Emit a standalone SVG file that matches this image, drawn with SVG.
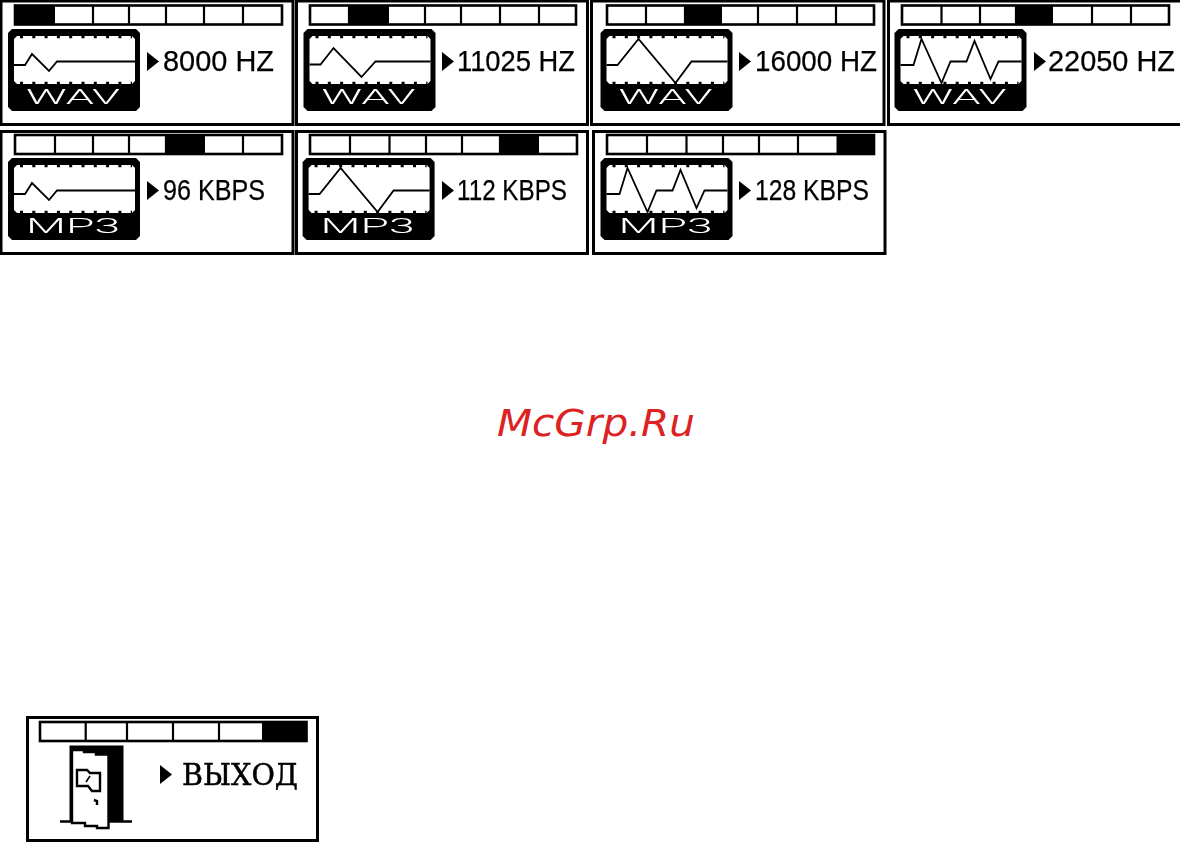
<svg xmlns="http://www.w3.org/2000/svg" xmlns:xlink="http://www.w3.org/1999/xlink" width="1180" height="842" viewBox="0 0 1180 842">
<style>
.frame{fill:#fff;stroke:#000;stroke-width:3}
.bar{fill:#fff;stroke:#000;stroke-width:2.6}
.cell{fill:#000}
.div{stroke:#000;stroke-width:2.2}
.wave{fill:none;stroke:#000;stroke-width:1.8;stroke-linejoin:miter}
.lab{font-family:"Liberation Sans",Arial,sans-serif;font-size:30px;fill:#000;stroke:#000;stroke-width:.25}
.fmt{font-family:Roboto,"Liberation Sans",sans-serif;font-weight:300;font-size:20.5px;fill:#fff}
.tick{fill:none;stroke:#000;stroke-width:2.6;stroke-dasharray:3 9.3}
.panel{filter:url(#soft)}
</style>
<defs>
<filter id="soft" x="-2%" y="-2%" width="104%" height="104%"><feGaussianBlur stdDeviation="0.4"/></filter>
<g id="lcd">
<path d="M12,29H136L140,33V107L136,111H12L8,107V33Z" fill="#000"/>
<path d="M17,36H132L135,39V81L132,84H17L14,81V39Z" fill="#fff"/>
<path class="tick" d="M20,37H132"/>
<path class="tick" d="M20,83H132"/>
</g>
<path id="w1" class="wave" d="M14,65H25L32,54L49,71L57,61.5H135"/>
<path id="w2" class="wave" d="M14,64.5H25L38,48L66,77L80,61.5H135"/>
<path id="w3" class="wave" d="M14,65H25L46,39L83,83L99,61.5H135"/>
<path id="w4" class="wave" d="M14,65H27L35,39L55,83L64,61.5H80L88,41L104,79L112,61.5H135"/>
<path id="arr" d="M0,0L12,9.5L0,19Z" fill="#000"/>
</defs>
<rect width="1180" height="842" fill="#fff"/>

<g id="panel-8000" class="panel">
<rect class="frame" x="1" y="1" width="292" height="123.5"/>
<rect class="bar" x="15" y="5.5" width="267" height="19"/>
<rect class="cell" x="15" y="5.5" width="40" height="19"/>
<path class="div" d="M93,5V25M129,5V25M166,5V25M204,5V25M243,5V25"/>
<use xlink:href="#lcd" href="#lcd"/><use xlink:href="#w1" href="#w1"/>
<text class="fmt" x="26" y="104" textLength="94" lengthAdjust="spacingAndGlyphs">WAV</text>
<use xlink:href="#arr" href="#arr" x="147" y="52"/>
<text class="lab" x="163" y="71" textLength="111" lengthAdjust="spacingAndGlyphs">8000 HZ</text>
</g>

<g id="panel-11025" class="panel">
<rect class="frame" x="296.5" y="1" width="291" height="123.5"/>
<rect class="bar" x="310" y="5.5" width="266" height="19"/>
<rect class="cell" x="349" y="5.5" width="40" height="19"/>
<path class="div" d="M349,5V25M425,5V25M461,5V25M500,5V25M539,5V25"/>
<g transform="translate(295.5 0)"><use xlink:href="#lcd" href="#lcd"/><use xlink:href="#w2" href="#w2"/>
<text class="fmt" x="26" y="104" textLength="94" lengthAdjust="spacingAndGlyphs">WAV</text></g>
<use xlink:href="#arr" href="#arr" x="442" y="52"/>
<text class="lab" x="457" y="71" textLength="118" lengthAdjust="spacingAndGlyphs">11025 HZ</text>
</g>

<g id="panel-16000" class="panel">
<rect class="frame" x="591.5" y="1" width="292.5" height="123.5"/>
<rect class="bar" x="607" y="5.5" width="267" height="19"/>
<rect class="cell" x="685" y="5.5" width="37" height="19"/>
<path class="div" d="M646,5V25M685,5V25M758,5V25M797,5V25M836,5V25"/>
<g transform="translate(592.5 0)"><use xlink:href="#lcd" href="#lcd"/><use xlink:href="#w3" href="#w3"/>
<text class="fmt" x="26" y="104" textLength="94" lengthAdjust="spacingAndGlyphs">WAV</text></g>
<use xlink:href="#arr" href="#arr" x="739" y="52"/>
<text class="lab" x="755" y="71" textLength="122" lengthAdjust="spacingAndGlyphs">16000 HZ</text>
</g>

<g id="panel-22050" class="panel">
<rect class="frame" x="888.5" y="1" width="296" height="123.5"/>
<rect class="bar" x="902" y="5.5" width="267" height="19"/>
<rect class="cell" x="1016" y="5.5" width="37" height="19"/>
<path class="div" d="M941.5,5V25M980,5V25M1016,5V25M1092,5V25M1131,5V25"/>
<g transform="translate(886.5 0)"><use xlink:href="#lcd" href="#lcd"/><use xlink:href="#w4" href="#w4"/>
<text class="fmt" x="26" y="104" textLength="94" lengthAdjust="spacingAndGlyphs">WAV</text></g>
<use xlink:href="#arr" href="#arr" x="1034" y="52"/>
<text class="lab" x="1048" y="71" textLength="127" lengthAdjust="spacingAndGlyphs">22050 HZ</text>
</g>

<g id="panel-96" class="panel">
<rect class="frame" x="1" y="131.5" width="292" height="122"/>
<rect class="bar" x="15" y="135" width="267" height="19"/>
<rect class="cell" x="166" y="135" width="39" height="19"/>
<path class="div" d="M55,134V155M93,134V155M129,134V155M166,134V155M243,134V155"/>
<g transform="translate(0 129)"><use xlink:href="#lcd" href="#lcd"/><use xlink:href="#w1" href="#w1"/>
<text class="fmt" x="26" y="104" textLength="94" lengthAdjust="spacingAndGlyphs">MP3</text></g>
<use xlink:href="#arr" href="#arr" x="147" y="181"/>
<text class="lab" x="163" y="200" textLength="102" lengthAdjust="spacingAndGlyphs">96 KBPS</text>
</g>

<g id="panel-112" class="panel">
<rect class="frame" x="296.5" y="131.5" width="291" height="122"/>
<rect class="bar" x="310" y="135" width="267" height="19"/>
<rect class="cell" x="500" y="135" width="39" height="19"/>
<path class="div" d="M350,134V155M389.5,134V155M426,134V155M462,134V155M500,134V155"/>
<g transform="translate(294.6 129)"><use xlink:href="#lcd" href="#lcd"/><use xlink:href="#w3" href="#w3"/>
<text class="fmt" x="26" y="104" textLength="94" lengthAdjust="spacingAndGlyphs">MP3</text></g>
<use xlink:href="#arr" href="#arr" x="442" y="181"/>
<text class="lab" x="457" y="200" textLength="110" lengthAdjust="spacingAndGlyphs">112 KBPS</text>
</g>

<g id="panel-128" class="panel">
<rect class="frame" x="593.5" y="131.5" width="291.5" height="122"/>
<rect class="bar" x="607" y="135" width="267" height="19"/>
<rect class="cell" x="836.5" y="135" width="37.5" height="19"/>
<path class="div" d="M647,134V155M686.5,134V155M723,134V155M759,134V155M798,134V155"/>
<g transform="translate(592.5 129)"><use xlink:href="#lcd" href="#lcd"/><use xlink:href="#w4" href="#w4"/>
<text class="fmt" x="26" y="104" textLength="94" lengthAdjust="spacingAndGlyphs">MP3</text></g>
<use xlink:href="#arr" href="#arr" x="739" y="181"/>
<text class="lab" x="755" y="200" textLength="114" lengthAdjust="spacingAndGlyphs">128 KBPS</text>
</g>

<g id="panel-exit" class="panel">
<rect class="frame" x="27.5" y="717.5" width="290" height="123"/>
<rect class="bar" x="40" y="722" width="266.5" height="19"/>
<rect class="cell" x="262" y="722" width="44.5" height="19"/>
<path class="div" d="M85.7,721V742M127,721V742M173,721V742M219,721V742"/>
<g id="door">
<path d="M69.5,745.500H123.500V821H69.500Z" fill="#000"/>
<path d="M60,821.500H132" fill="none" stroke="#000" stroke-width="2.6"/>
<path d="M72,750H84V752H96V754.500H108.500V828H97V826H85V823H72Z" fill="#fff" stroke="#000" stroke-width="2.4"/>
<path d="M77,770H87L90,773H100V791H92L88,786H77Z" fill="none" stroke="#000" stroke-width="2.4"/>
<path d="M86,782L90,776" stroke="#000" stroke-width="1.6"/>
<path d="M94,800L97,801V805" fill="none" stroke="#000" stroke-width="2.4"/>
</g>
<use xlink:href="#arr" href="#arr" x="160" y="765"/>
<text x="182" y="785" textLength="116" lengthAdjust="spacingAndGlyphs" font-family="'DejaVu Serif',serif" font-size="30" fill="#000" stroke="#000" stroke-width=".5">ВЫХОД</text>
</g>

<text id="watermark" x="497" y="436" textLength="198" lengthAdjust="spacingAndGlyphs" font-family="'DejaVu Sans',sans-serif" font-style="oblique" font-size="37" fill="#dc2222">McGrp.Ru</text>
</svg>
